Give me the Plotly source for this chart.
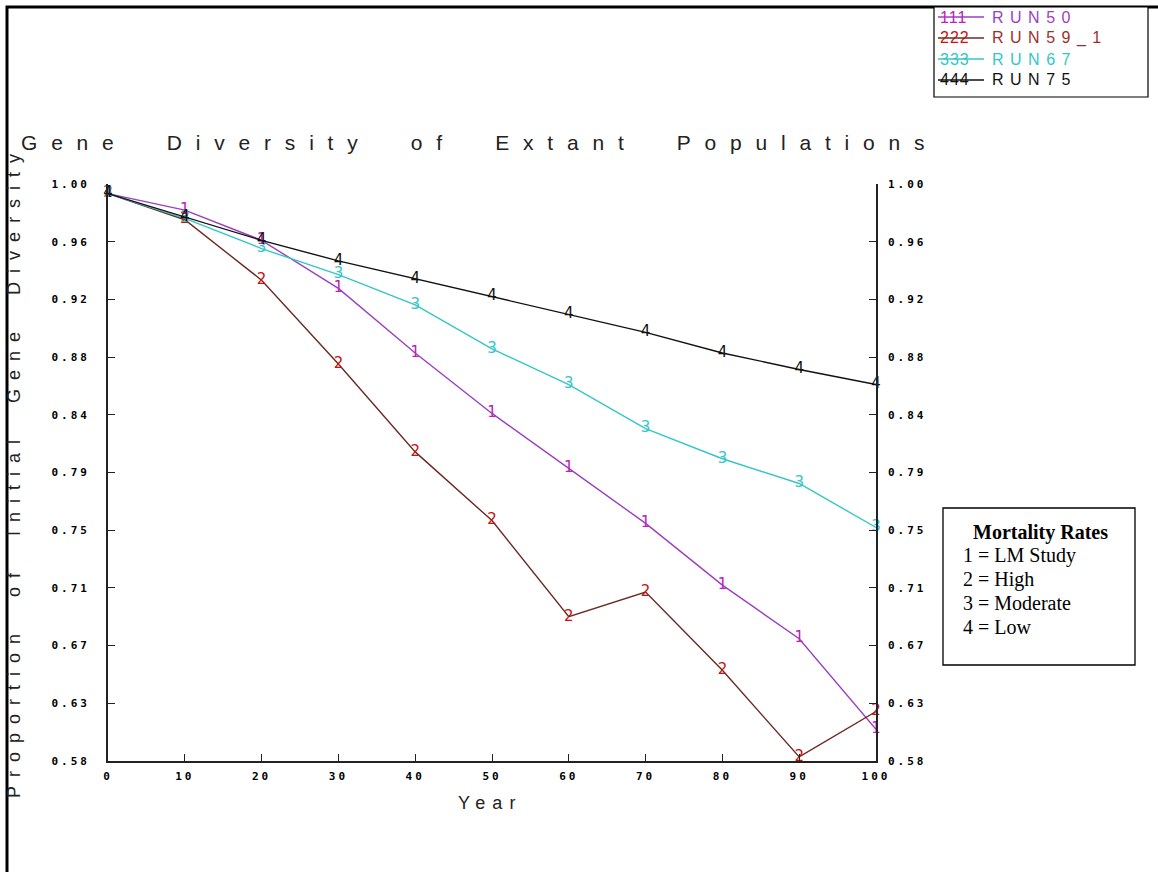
import plotly.graph_objects as go
import numpy as np

# ---------------- data ----------------
years = [0, 10, 20, 30, 40, 50, 60, 70, 80, 90, 100]
run50 = [0.993, 0.981, 0.959, 0.924, 0.877, 0.833, 0.793, 0.753, 0.708, 0.669, 0.603]    # 1 = LM Study
run59_1 = [0.993, 0.974, 0.930, 0.869, 0.805, 0.755, 0.685, 0.703, 0.646, 0.583, 0.616]  # 2 = High
run67 = [0.993, 0.975, 0.953, 0.934, 0.912, 0.880, 0.854, 0.822, 0.800, 0.782, 0.750]    # 3 = Moderate
run75 = [0.993, 0.976, 0.959, 0.944, 0.931, 0.918, 0.905, 0.892, 0.877, 0.865, 0.854]    # 4 = Low

y_ticktext = ["1.00", "0.96", "0.92", "0.88", "0.84", "0.79", "0.75", "0.71", "0.67", "0.63", "0.58"]
x_ticktext = ["0", "10", "20", "30", "40", "50", "60", "70", "80", "90", "100"]

series = [
    ("1", "RUN50", run50, "#9b3fbf", "#c020c0"),
    ("2", "RUN59_1", run59_1, "#6a2a22", "#cc1010"),
    ("3", "RUN67", run67, "#33c6c8", "#33c6c8"),
    ("4", "RUN75", run75, "#111111", "#111111"),
]
legend_text_colors = ["#9b3fbf", "#a0302a", "#33c6c8", "#111111"]

# ---------------- geometry ----------------
W, H = 1158, 872
L, R, T, B = 108, 876, 184, 761
Y0, Y1 = 0.58, 1.00


def px(x):
    return (x - L) / (R - L)


def py(y):
    return (B - y) / (B - T)


def spaced(txt, ls):
    return f'<span style="letter-spacing:{ls}px">{txt}</span>'


fig = go.Figure()
for digit, name, vals, lc, tc in series:
    fig.add_trace(go.Scatter(
        x=years, y=vals, mode="lines+text", name=name,
        text=[digit] * len(years), textposition="middle center",
        textfont=dict(family="DejaVu Sans", size=15, color=tc),
        line=dict(color=lc, width=1.4), cliponaxis=False,
        showlegend=False, hoverinfo="skip"))

# invisible trace to drive the right axis
fig.add_trace(go.Scatter(x=[0], y=[0.8], yaxis="y2", mode="markers",
                         marker=dict(opacity=0), showlegend=False, hoverinfo="skip"))

tickvals_y = list(np.linspace(Y1, Y0, len(y_ticktext)))
tickfont = dict(family="DejaVu Sans Mono", size=11, color="#000", weight="bold")
ticktext_sp = [spaced(t, 3) for t in y_ticktext]

fig.update_layout(
    width=W, height=H,
    margin=dict(l=L, r=W - R, t=T, b=H - B, autoexpand=False),
    paper_bgcolor="white", plot_bgcolor="white",
    showlegend=False,
    xaxis=dict(range=[0, 100], tickvals=years, ticktext=[spaced(t, 3) for t in x_ticktext],
               ticks="inside", ticklen=7, tickwidth=1.3, tickcolor="#222",
               showline=True, linecolor="#222", linewidth=1.6, showgrid=False,
               zeroline=False, tickfont=tickfont, ticklabelstandoff=4),
    yaxis=dict(range=[Y0, Y1], tickvals=tickvals_y, ticktext=ticktext_sp,
               ticks="inside", ticklen=7, tickwidth=1.3, tickcolor="#222",
               showline=True, linecolor="#222", linewidth=1.6, showgrid=False,
               zeroline=False, tickfont=tickfont, ticklabelstandoff=14),
    yaxis2=dict(range=[Y0, Y1], overlaying="y", side="right", tickvals=tickvals_y,
                ticktext=ticktext_sp, ticks="inside", ticklen=7, tickwidth=1.3,
                tickcolor="#222", showline=True, linecolor="#222", linewidth=1.6,
                showgrid=False, zeroline=False, tickfont=tickfont, ticklabelstandoff=8),
)

shapes = []
annotations = []

# outer frame (left and top visible)
shapes.append(dict(type="rect", xref="paper", yref="paper",
                   x0=px(7), x1=px(1200), y0=py(920), y1=py(7),
                   line=dict(color="black", width=3), fillcolor="rgba(0,0,0,0)"))

SP = "\u00a0 "
# title
annotations.append(dict(xref="paper", yref="paper", x=px(19), y=py(143), xanchor="left",
                        yanchor="middle", showarrow=False,
                        text=spaced(SP.join(["Gene", "Diversity", "of", "Extant", "Populations"]), 13.8),
                        font=dict(family="Liberation Sans", size=21, color="#222")))

# y title
annotations.append(dict(xref="paper", yref="paper", x=px(14), y=py(472), xanchor="center",
                        yanchor="middle", showarrow=False, textangle=-90,
                        text=spaced(SP.join(["Proportion", "of", "Initial", "Gene", "Diversity"]), 9),
                        font=dict(family="Liberation Sans", size=18, color="#222")))

# x title
annotations.append(dict(xref="paper", yref="paper", x=px(490), y=py(803), xanchor="center",
                        yanchor="middle", showarrow=False, text=spaced("Year", 7),
                        font=dict(family="Liberation Sans", size=18, color="#222")))

# series legend box (top right)
shapes.append(dict(type="rect", xref="paper", yref="paper",
                   x0=px(934), x1=px(1148), y0=py(97), y1=py(7),
                   line=dict(color="black", width=1.2), fillcolor="white"))
row_y = [17, 38, 59, 80]
for (digit, name, vals, lc, tc), ry, ncol in zip(series, row_y, legend_text_colors):
    annotations.append(dict(xref="paper", yref="paper", x=px(938), y=py(ry), xanchor="left",
                            yanchor="middle", showarrow=False, text=spaced(digit * 3, 1),
                            font=dict(family="Liberation Sans", size=16, color=tc)))
    shapes.append(dict(type="line", xref="paper", yref="paper", x0=px(938), x1=px(984),
                       y0=py(ry), y1=py(ry), line=dict(color=lc, width=1.3)))
    annotations.append(dict(xref="paper", yref="paper", x=px(990), y=py(ry), xanchor="left",
                            yanchor="middle", showarrow=False, text=spaced(name, 6.5),
                            font=dict(family="Liberation Sans", size=16, color=ncol)))

# mortality rates box
shapes.append(dict(type="rect", xref="paper", yref="paper",
                   x0=px(943), x1=px(1135), y0=py(665), y1=py(508),
                   line=dict(color="black", width=1.3), fillcolor="white"))
annotations.append(dict(xref="paper", yref="paper", x=px(1040), y=py(532), xanchor="center",
                        yanchor="middle", showarrow=False, text="<b>Mortality Rates</b>",
                        font=dict(family="Liberation Serif", size=20, color="black")))
box_lines = ["1 = LM Study", "2 = High", "3 = Moderate", "4 = Low"]
for i, t in enumerate(box_lines):
    annotations.append(dict(xref="paper", yref="paper", x=px(961), y=py(555 + 24 * i),
                            xanchor="left", yanchor="middle", showarrow=False, text=t,
                            font=dict(family="Liberation Serif", size=20, color="black")))

fig.update_layout(shapes=shapes, annotations=annotations)
fig.write_html("out.html", config={"displayModeBar": False},
               post_script="document.body.style.margin='0';")
